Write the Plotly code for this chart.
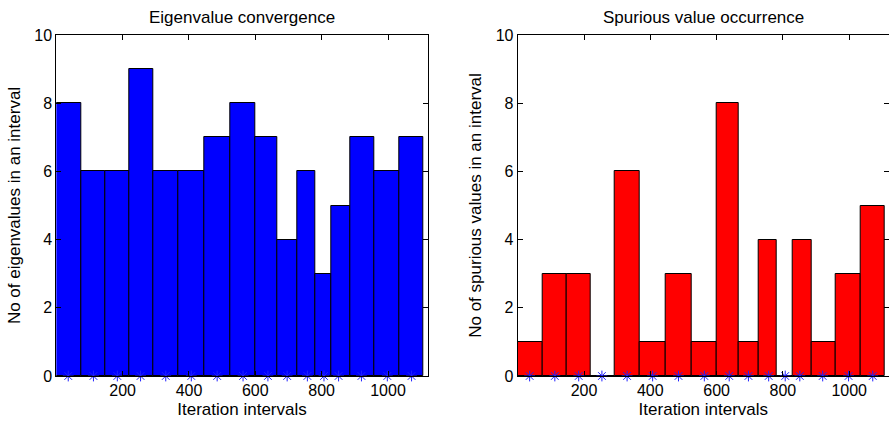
import plotly.graph_objects as go

# Bin centres (iteration intervals) and counts
centers = [36, 112, 184, 254, 330, 407, 485, 563, 638, 696, 757, 807, 851, 920, 998, 1071]
eigen_counts = [8, 6, 6, 9, 6, 6, 7, 8, 7, 4, 6, 3, 5, 7, 6, 7]
spurious_counts = [1, 3, 3, 0, 6, 1, 3, 1, 8, 1, 4, 0, 4, 1, 3, 5]
star_level = [0] * len(centers)

x_ticks = [200, 400, 600, 800, 1000]
y_ticks = [0, 2, 4, 6, 8, 10]

titles = ["Eigenvalue convergence", "Spurious value occurrence"]
x_title = "Iteration intervals"
y_titles = ["No of eigenvalues in an interval", "No of spurious values in an interval"]

# MATLAB 'hist' style bars: edges at midpoints between centres
n = len(centers)
edges = [centers[0] - (centers[1] - centers[0]) / 2]
for i in range(1, n):
    edges.append((centers[i - 1] + centers[i]) / 2)
edges.append(centers[-1] + (centers[-1] - centers[-2]) / 2)
bar_x = [(edges[i] + edges[i + 1]) / 2 for i in range(n)]
bar_w = [edges[i + 1] - edges[i] for i in range(n)]

FONT = "Liberation Sans, Arial, Helvetica, sans-serif"

fig = go.Figure()
for k, (counts, col) in enumerate([(eigen_counts, "#0000ff"), (spurious_counts, "#ff0000")]):
    xa = "x" if k == 0 else "x2"
    ya = "y" if k == 0 else "y2"
    fig.add_trace(go.Bar(x=bar_x, y=counts, width=bar_w, xaxis=xa, yaxis=ya,
                         marker=dict(color=col, line=dict(color="black", width=1)),
                         showlegend=False, hoverinfo="skip"))
    fig.add_trace(go.Scatter(x=centers, y=star_level, mode="markers", xaxis=xa, yaxis=ya,
                             marker=dict(symbol="asterisk-open", size=9, color="#2020ff",
                                         line=dict(color="#2020ff", width=1)),
                             cliponaxis=False, showlegend=False, hoverinfo="skip"))

W, H = 889, 422
axis_common = dict(showline=True, linecolor="black", linewidth=1, mirror="ticks",
                   ticks="inside", ticklen=5, tickcolor="black", tickwidth=1,
                   showgrid=False, zeroline=False,
                   tickfont=dict(family=FONT, size=16, color="black"))

xdoms = [[56.3 / W, 427.8 / W], [517.7 / W, 1.0]]
layout = dict(width=W, height=H, plot_bgcolor="white", paper_bgcolor="white",
              margin=dict(l=0, r=0, t=35, b=46), bargap=0,
              font=dict(family=FONT, size=16, color="black"))
for k in range(2):
    sx = "" if k == 0 else "2"
    layout["xaxis" + sx] = dict(axis_common, domain=xdoms[k], range=[0, 1120],
                                tickvals=x_ticks, anchor="y" + sx,
                                title=dict(text=x_title, standoff=4,
                                           font=dict(family=FONT, size=17)))
    layout["yaxis" + sx] = dict(axis_common, domain=[0, 1], range=[0, 10],
                                tickvals=y_ticks, anchor="x" + sx,
                                title=dict(text=y_titles[k], standoff=9,
                                           font=dict(family=FONT, size=17)))
fig.update_layout(**layout)

for k in range(2):
    fig.add_annotation(text=titles[k], xref="paper", yref="paper",
                       x=(xdoms[k][0] + xdoms[k][1]) / 2, y=1, yshift=18,
                       showarrow=False, xanchor="center", yanchor="middle",
                       font=dict(family=FONT, size=17, color="black"))

fig.write_html("out.html", config={"displayModeBar": False},
               post_script="document.body.style.margin='0';document.body.style.overflow='hidden';")
